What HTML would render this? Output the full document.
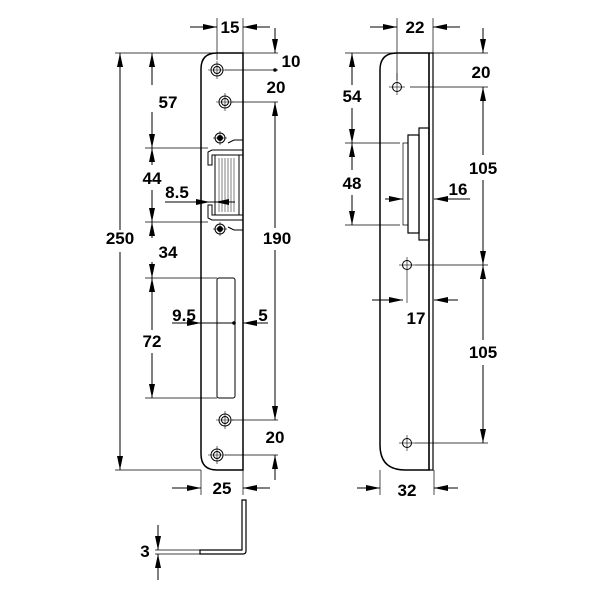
<!DOCTYPE html>
<html><head><meta charset="utf-8"><style>
html,body{margin:0;padding:0;background:#fff}
svg{display:block}
text{font-family:"Liberation Sans",Arial,sans-serif;font-weight:bold;font-size:17px;fill:#000}
</style></head><body>
<svg width="601" height="600" viewBox="0 0 601 600" xmlns="http://www.w3.org/2000/svg">
<defs>
<marker id="a" viewBox="0 0 14 6" refX="14" refY="3" markerWidth="14" markerHeight="6" markerUnits="userSpaceOnUse" orient="auto-start-reverse">
<path d="M0,0 L14,3 L0,6 z" fill="#000"/></marker>
</defs>
<g stroke="#000" fill="none" stroke-width="1">
<path d="M217,53 L243,53 L243,470 L217,470 Q201,470 201,454 L201,69 Q201,53 217,53 Z" stroke-width="1.5"/>
<g stroke-width="1">
<circle cx="217" cy="70" r="6"/><circle cx="217" cy="70" r="3.5"/>
<line x1="208" y1="70" x2="226" y2="70" stroke-width="0.6"/><line x1="217" y1="61" x2="217" y2="79" stroke-width="0.6"/>
<circle cx="225" cy="102" r="6"/><circle cx="225" cy="102" r="3.5"/>
<line x1="216" y1="102" x2="234" y2="102" stroke-width="0.6"/><line x1="225" y1="93" x2="225" y2="111" stroke-width="0.6"/>
<circle cx="225" cy="420" r="6"/><circle cx="225" cy="420" r="3.5"/>
<line x1="216" y1="420" x2="234" y2="420" stroke-width="0.6"/><line x1="225" y1="411" x2="225" y2="429" stroke-width="0.6"/>
<circle cx="217" cy="455" r="6"/><circle cx="217" cy="455" r="3.5"/>
<line x1="208" y1="455" x2="226" y2="455" stroke-width="0.6"/><line x1="217" y1="446" x2="217" y2="464" stroke-width="0.6"/>
<circle cx="220" cy="138" r="5"/><circle cx="220" cy="138" r="2.5" fill="#000"/>
<line x1="213" y1="138" x2="227" y2="138" stroke-width="0.6"/><line x1="220" y1="131" x2="220" y2="145" stroke-width="0.6"/>
<circle cx="220" cy="229" r="5"/><circle cx="220" cy="229" r="2.5" fill="#000"/>
<line x1="213" y1="229" x2="227" y2="229" stroke-width="0.6"/><line x1="220" y1="222" x2="220" y2="236" stroke-width="0.6"/>
</g>
<path d="M212,150 L243,150 M212,150 L208,152 L208,165 L212,165 L212,155 L243,155"/>
<path d="M212,220 L243,220 M212,220 L208,218 L208,205 L212,205 L212,215 L243,215"/>
<path d="M228,143 L234,140 L243,140 M228,227 L234,230 L243,230"/>
<rect x="215" y="155" width="24" height="60"/>
<g stroke-width="0.5"><line x1="219" y1="158" x2="219" y2="212"/><line x1="222" y1="158" x2="222" y2="212"/><line x1="225" y1="158" x2="225" y2="212"/><line x1="228" y1="158" x2="228" y2="212"/><line x1="231" y1="158" x2="231" y2="212"/><line x1="234" y1="158" x2="234" y2="212"/></g>
<rect x="217" y="278" width="18" height="120" rx="2"/>
<path d="M200,550 L242,550 L242,500 L246,500 L246,551 Q246,554 243,554 L200,554 Z" stroke-width="1.2"/>
<g stroke-width="0.7">
<line x1="115" y1="53" x2="278" y2="53"/>
<line x1="115" y1="470" x2="201" y2="470"/>
<line x1="217" y1="18" x2="217" y2="60"/><line x1="243" y1="18" x2="243" y2="53"/>
<line x1="145" y1="148" x2="208" y2="148"/>
<line x1="145" y1="222" x2="208" y2="222"/>
<line x1="145" y1="278" x2="217" y2="278"/>
<line x1="145" y1="398" x2="217" y2="398"/>
<line x1="225" y1="70" x2="278" y2="70"/>
<line x1="232" y1="102" x2="278" y2="102"/>
<line x1="232" y1="420" x2="278" y2="420"/>
<line x1="225" y1="455" x2="278" y2="455"/>
<line x1="201" y1="470" x2="201" y2="495"/><line x1="243" y1="470" x2="243" y2="495"/>
<line x1="155" y1="550" x2="200" y2="550"/><line x1="155" y1="554" x2="200" y2="554"/>
</g>
<line x1="120" y1="230" x2="120" y2="53" marker-end="url(#a)"/>
<line x1="120" y1="252" x2="120" y2="470" marker-end="url(#a)"/>
<line x1="152" y1="85" x2="152" y2="53" marker-end="url(#a)"/>
<line x1="152" y1="112" x2="152" y2="148" marker-end="url(#a)"/>
<line x1="152" y1="148" x2="152" y2="165" marker-start="url(#a)"/>
<line x1="152" y1="190" x2="152" y2="222" marker-end="url(#a)"/>
<line x1="152" y1="222" x2="152" y2="238" marker-start="url(#a)"/>
<line x1="152" y1="262" x2="152" y2="278" marker-end="url(#a)"/>
<line x1="152" y1="278" x2="152" y2="330" marker-start="url(#a)"/>
<line x1="152" y1="353" x2="152" y2="398" marker-end="url(#a)"/>
<line x1="190" y1="27" x2="217" y2="27" marker-end="url(#a)"/>
<line x1="270" y1="27" x2="243" y2="27" marker-end="url(#a)"/>
<line x1="275" y1="28" x2="275" y2="53" marker-end="url(#a)"/>
<line x1="275" y1="228" x2="275" y2="102" marker-end="url(#a)"/>
<line x1="275" y1="250" x2="275" y2="420" marker-end="url(#a)"/>
<line x1="275" y1="480" x2="275" y2="455" marker-end="url(#a)"/>
<line x1="172" y1="488" x2="201" y2="488" marker-end="url(#a)"/>
<line x1="270" y1="488" x2="243" y2="488" marker-end="url(#a)"/>
<line x1="158" y1="525" x2="158" y2="550" marker-end="url(#a)"/>
<line x1="158" y1="580" x2="158" y2="554" marker-end="url(#a)"/>
<line x1="165" y1="202" x2="210" y2="202" marker-end="url(#a)"/>
<line x1="210" y1="202" x2="235" y2="202"/>
<line x1="235" y1="202" x2="215" y2="202" marker-end="url(#a)"/>
<line x1="172" y1="323" x2="201" y2="323" marker-end="url(#a)"/>
<line x1="201" y1="323" x2="234" y2="323"/>
<line x1="268" y1="323" x2="243" y2="323" marker-end="url(#a)"/>
</g>
<circle cx="275" cy="70" r="1.8" fill="#000"/>
<circle cx="234" cy="323" r="1.8" fill="#000"/>
<g stroke="#000" fill="none">
<path d="M397,53 L429,53 L429,470 L405,470 Q380,470 380,445 L380,70 Q380,53 397,53 Z" stroke-width="1.5"/>
<rect x="429" y="53" width="4" height="417" stroke-width="1.2"/>
<rect x="419" y="128" width="10" height="112" stroke-width="1.2"/>
<rect x="408" y="135" width="11" height="98" stroke-width="1.2"/>
<path d="M408,143 L403,143 L403,225 L408,225" stroke-width="0.7"/>
<circle cx="397" cy="87" r="4.5"/><line x1="389" y1="87" x2="405" y2="87" stroke-width="0.6"/><line x1="397" y1="73" x2="397" y2="95" stroke-width="0.6"/>
<circle cx="407" cy="265" r="4.5"/><line x1="399" y1="265" x2="415" y2="265" stroke-width="0.6"/><line x1="407" y1="257" x2="407" y2="303" stroke-width="0.6"/>
<circle cx="407" cy="443" r="4.5"/><line x1="399" y1="443" x2="415" y2="443" stroke-width="0.6"/><line x1="407" y1="435" x2="407" y2="451" stroke-width="0.6"/>
<g stroke-width="0.7">
<line x1="345" y1="53" x2="488" y2="53"/>
<line x1="397" y1="18" x2="397" y2="80"/><line x1="433" y1="18" x2="433" y2="53"/>
<line x1="410" y1="87" x2="488" y2="87"/>
<line x1="415" y1="265" x2="488" y2="265"/>
<line x1="415" y1="443" x2="488" y2="443"/>
<line x1="345" y1="143" x2="400" y2="143"/>
<line x1="345" y1="225" x2="400" y2="225"/>
<line x1="380" y1="470" x2="380" y2="495"/><line x1="434" y1="470" x2="434" y2="495"/>
</g>
<g stroke-width="1">
<line x1="370" y1="27" x2="397" y2="27" marker-end="url(#a)"/>
<line x1="460" y1="27" x2="433" y2="27" marker-end="url(#a)"/>
<line x1="483" y1="28" x2="483" y2="53" marker-end="url(#a)"/>
<line x1="483" y1="155" x2="483" y2="87" marker-end="url(#a)"/>
<line x1="483" y1="180" x2="483" y2="265" marker-end="url(#a)"/>
<line x1="483" y1="265" x2="483" y2="340" marker-start="url(#a)"/>
<line x1="483" y1="365" x2="483" y2="443" marker-end="url(#a)"/>
<line x1="352" y1="85" x2="352" y2="53" marker-end="url(#a)"/>
<line x1="352" y1="108" x2="352" y2="143" marker-end="url(#a)"/>
<line x1="352" y1="143" x2="352" y2="170" marker-start="url(#a)"/>
<line x1="352" y1="195" x2="352" y2="225" marker-end="url(#a)"/>
<line x1="385" y1="199" x2="403" y2="199" marker-end="url(#a)"/>
<line x1="470" y1="199" x2="434" y2="199" marker-end="url(#a)"/>
<line x1="372" y1="300" x2="403" y2="300" marker-end="url(#a)"/>
<line x1="458" y1="300" x2="434" y2="300" marker-end="url(#a)"/>
<line x1="357" y1="488" x2="380" y2="488" marker-end="url(#a)"/>
<line x1="458" y1="488" x2="434" y2="488" marker-end="url(#a)"/>
</g>
</g>
<text x="230" y="33" text-anchor="middle">15</text>
<text x="291" y="67" text-anchor="middle">10</text>
<text x="276" y="93" text-anchor="middle">20</text>
<text x="168" y="108" text-anchor="middle">57</text>
<text x="152" y="184" text-anchor="middle">44</text>
<text x="177" y="198" text-anchor="middle">8.5</text>
<text x="120" y="244" text-anchor="middle">250</text>
<text x="277" y="244" text-anchor="middle">190</text>
<text x="168" y="258" text-anchor="middle">34</text>
<text x="184" y="321" text-anchor="middle">9.5</text>
<text x="263" y="321" text-anchor="middle">5</text>
<text x="152" y="347" text-anchor="middle">72</text>
<text x="275" y="443" text-anchor="middle">20</text>
<text x="222" y="494" text-anchor="middle">25</text>
<text x="145" y="557" text-anchor="middle">3</text>
<text x="415" y="33" text-anchor="middle">22</text>
<text x="481" y="78" text-anchor="middle">20</text>
<text x="352" y="102" text-anchor="middle">54</text>
<text x="483" y="174" text-anchor="middle">105</text>
<text x="352" y="189" text-anchor="middle">48</text>
<text x="458" y="195" text-anchor="middle">16</text>
<text x="416" y="324" text-anchor="middle">17</text>
<text x="483" y="358" text-anchor="middle">105</text>
<text x="407" y="496" text-anchor="middle">32</text>
</svg>
</body></html>
